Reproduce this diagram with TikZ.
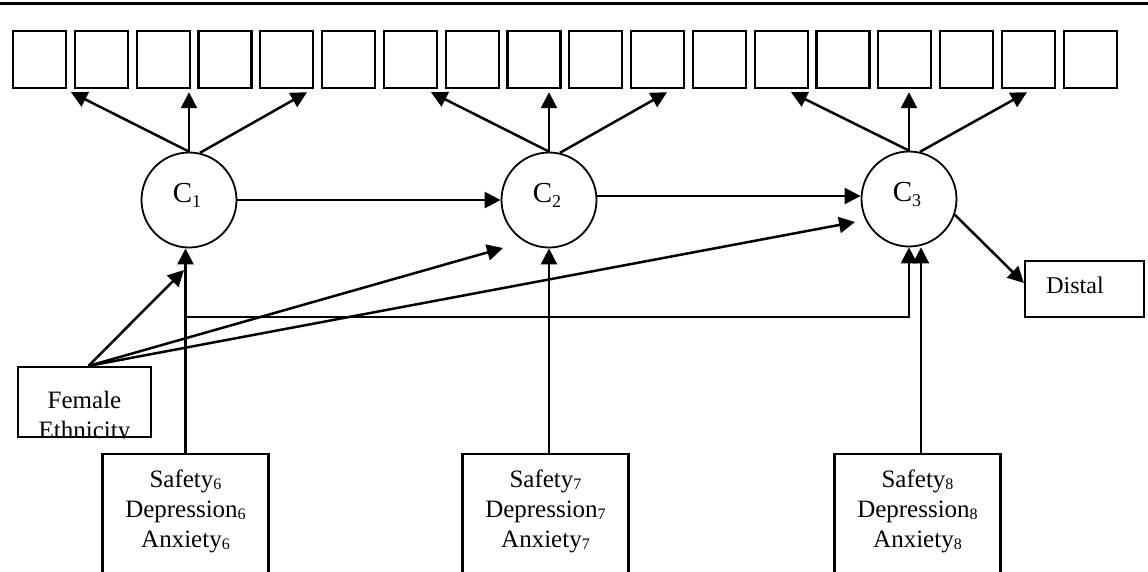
\documentclass[tikz,border=0pt]{standalone}
\usepackage{fontspec}
\setmainfont{Liberation Serif}
\usetikzlibrary{arrows.meta}
\newcommand\subn[1]{\raisebox{-2pt}{\fontsize{16}{16}\selectfont #1}}
\newcommand\csub[1]{\raisebox{-5pt}{\fontsize{18}{18}\selectfont #1}}
\begin{document}
\begin{tikzpicture}[x=1pt,y=-1pt,
  obs/.style={draw, line width=2.2pt, minimum width=53pt, minimum height=57pt, inner sep=0pt, anchor=north west},
  lat/.style={draw, circle, line width=1.8pt, minimum size=95pt, inner sep=0pt},
  arr/.style={line width=2.5pt, -{Triangle[length=16pt,width=16pt]}},
  boxc/.style={draw, line width=2.2pt, inner sep=0pt},
  txt/.style={font=\fontsize{25}{30}\selectfont, align=center, inner sep=0pt},
  clab/.style={font=\fontsize{29}{30}\selectfont, inner sep=0pt, anchor=base}
]
\clip (0,0) rectangle (1148,571);
\draw[line width=3pt] (0,3) -- (1148,3);

% indicator boxes
\foreach \k in {1,...,18}{
  \node[obs] (b\k) at ({12+61.8*(\k-1)},30) {};
}

% latent classes
\node[lat] (c1) at (189,200) {};
\node[lat] (c2) at (549,200) {};
\node[lat] (c3) at (909,199) {};
\node[clab] (c1l) at (187,202) {C\csub{1}};
\node[clab] (c2l) at (547,202) {C\csub{2}};
\node[clab] (c3l) at (907,201) {C\csub{3}};

% arrows to indicators
\foreach \c in {c1,c2,c3}{
  \draw[arr] (\c.north) -- ([xshift=-118pt,yshift=-3pt]\c.north |- b1.south);
  \draw[arr] (\c.north) -- ([yshift=-3pt]\c.north |- b1.south);
  \draw[arr] (\c.77) -- ([xshift=118pt,yshift=-3pt]\c.north |- b1.south);
}

% class transitions
\draw[arr] (c1.east) -- (c2.west);
\draw[arr] ([yshift=4pt]c2.east) -- ([yshift=4pt]c2.east -| c3.west);

% covariate boxes
\node[boxc, minimum width=166pt, minimum height=160pt, anchor=north] (s6) at (185.5,453) {};
\node[boxc, minimum width=166pt, minimum height=160pt, anchor=north] (s7) at (545.5,453) {};
\node[boxc, minimum width=166pt, minimum height=160pt, anchor=north] (s8) at (917.5,453) {};
\node[txt, anchor=north] (s6t) at ([yshift=-17pt]s6.north) {Safety\subn{6}\\Depression\subn{6}\\Anxiety\subn{6}};
\node[txt, anchor=north] (s7t) at ([yshift=-17pt]s7.north) {Safety\subn{7}\\Depression\subn{7}\\Anxiety\subn{7}};
\node[txt, anchor=north] (s8t) at ([yshift=-17pt]s8.north) {Safety\subn{8}\\Depression\subn{8}\\Anxiety\subn{8}};

\draw[arr] (s6.north) -- (s6.north |- c1.south);
\draw[arr] (s7.north -| c2.south) -- (c2.south);
\draw[arr] ([xshift=3.5pt]s8.north) -- ([xshift=3.5pt]s8.north |- c3.south);
\coordinate (j) at (185.5,317);
\draw[arr] (j) -| (c3.south);

% female / ethnicity
\node[boxc, minimum width=133pt, minimum height=70pt] (fem) at (84.5,402) {};
\begin{scope}
  \clip (fem.south west) rectangle (fem.north east);
  \node[txt, anchor=base] (femt1) at (84.5,408) {Female};
  \node[txt, anchor=base] (femt2) at (84.5,438) {Ethnicity};
\end{scope}
\node[boxc, minimum width=133pt, minimum height=70pt] (femb) at (84.5,402) {};
\coordinate (f1) at (184,270);
\coordinate (f2) at (503,248);
\coordinate (f3) at (855,222);
\draw[arr] ([xshift=4pt]fem.north) -- (f1);
\draw[arr] ([xshift=4pt]fem.north) -- (f2);
\draw[arr] ([xshift=4pt]fem.north) -- (f3);

% distal
\node[boxc, minimum width=119pt, minimum height=56pt] (dist) at (1084.5,289) {};
\node[txt, font=\fontsize{24}{28}\selectfont, anchor=base] (distt) at (1075,293) {Distal};
\draw[arr] (c3.-19) -- ([yshift=6pt]dist.west);
\end{tikzpicture}
\end{document}
